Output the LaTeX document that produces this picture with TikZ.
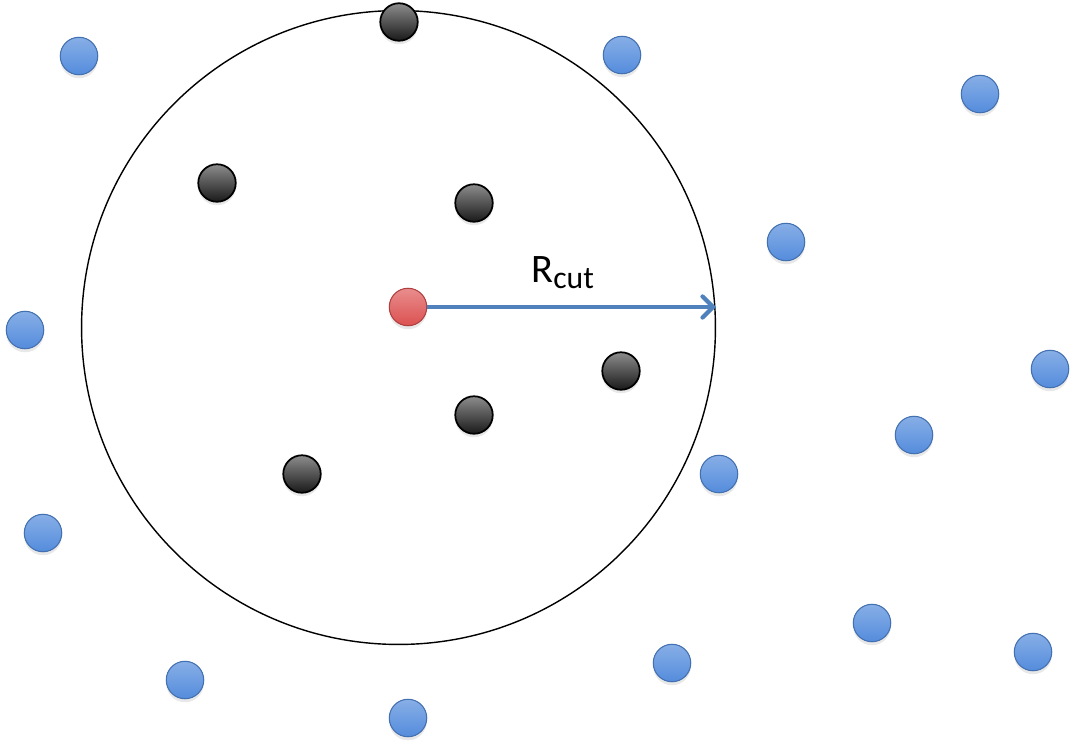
\documentclass[tikz,border=0pt]{standalone}
\usepackage{fontspec}
\setmainfont{Carlito}
\usetikzlibrary{arrows.meta}
\usetikzlibrary{shadows}
\definecolor{mblue}{RGB}{79,129,189}
\definecolor{ballblue}{RGB}{84,140,220}
\definecolor{ballred}{RGB}{220,80,80}
\tikzset{ball/.style = {circle, inner sep = 0, minimum size = 0.75cm, line width = 0.6pt,
    drop shadow = {opacity = 0.18, shadow xshift = 0pt, shadow yshift = -2pt}}}
\tikzset{blueball/.style = {ball, draw = ballblue!80!black, top color = ballblue!70!white, bottom color = ballblue}}
\tikzset{blackball/.style = {ball, draw = black, line width = 1pt, top color = black!45, bottom color = black!90}}
\tikzset{redball/.style = {ball, draw = ballred!80!black, top color = ballred!65!white, bottom color = ballred}}

\begin{document}
\begin{tikzpicture}[x = 0.02cm, y = -0.02cm]
    \useasboundingbox (0, 0) rectangle (1077, 744);
    \draw[line width = 0.8pt] (398.5, 327.5) circle [radius = 6.34cm];

    % inside the cutoff
    \node [blackball] (k1) at (399, 22) {};
    \node [blackball] (k2) at (217, 183) {};
    \node [blackball] (k3) at (474, 203) {};
    \node [blackball] (k4) at (621, 371) {};
    \node [blackball] (k5) at (474, 415) {};
    \node [blackball] (k6) at (302, 474) {};

    % outside the cutoff
    \node [blueball] (b1) at (79, 56) {};
    \node [blueball] (b2) at (622, 55) {};
    \node [blueball] (b3) at (980, 94) {};
    \node [blueball] (b4) at (786, 242) {};
    \node [blueball] (b5) at (25, 330) {};
    \node [blueball] (b6) at (1050, 369) {};
    \node [blueball] (b7) at (914, 435) {};
    \node [blueball] (b8) at (719, 474) {};
    \node [blueball] (b9) at (43, 533) {};
    \node [blueball] (b10) at (872, 623) {};
    \node [blueball] (b11) at (1033, 652) {};
    \node [blueball] (b12) at (672, 663) {};
    \node [blueball] (b13) at (185, 680) {};
    \node [blueball] (b14) at (408, 718) {};

    \node [redball] (c) at (408, 307) {};
    \coordinate (edge) at (716, 307);
    \draw[mblue, line width = 2.4pt, -{Straight Barb[length = 6pt, width = 12pt, line cap = round]}] (c) -- (edge);
    \node [inner sep = 0, anchor = base west] (rcut) at (531, 282) {\fontsize{23}{27}\selectfont R\raisebox{-0.35ex}{\fontsize{18}{21}\selectfont cut}};
\end{tikzpicture}
\end{document}
